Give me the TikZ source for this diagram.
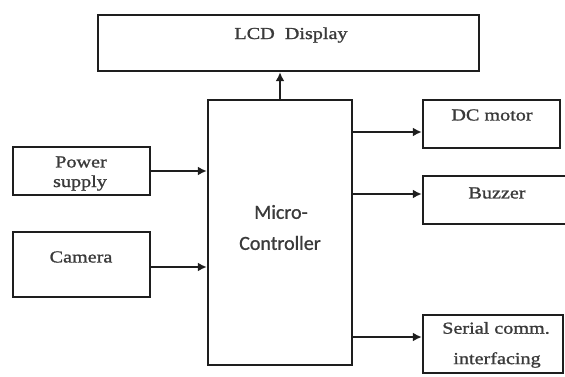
\documentclass[tikz,border=0pt]{standalone}
\usepackage{fontspec}
\setmainfont[FakeStretch=1.2,FakeBold=1.2]{Liberation Serif}
\newfontfamily\mcfont[FakeBold=1.0]{Carlito}
\usetikzlibrary{arrows.meta}
\definecolor{linecol}{HTML}{1E1E1E}
\definecolor{txtcol}{HTML}{3A3A3A}
\tikzset{
  blk/.style={draw=linecol, line width=2.4pt, inner sep=0pt},
  lbl/.style={text=txtcol, inner sep=0pt, font=\fontsize{16.8}{18}\selectfont},
  mclbl/.style={text=txtcol, inner sep=0pt, font=\mcfont\fontsize{20}{22}\selectfont},
  arr/.style={draw=linecol, line width=2.4pt, -{Latex[length=9pt,width=9pt]}}
}
\begin{document}
\begin{tikzpicture}[x=1pt,y=-1pt]
\useasboundingbox (0,0) rectangle (565,377);
% boxes
\node[blk, minimum width=381pt, minimum height=56pt] (lcd) at (288.5,43) {};
\node[blk, minimum width=144pt, minimum height=265pt] (mc) at (280,232.5) {};
\node[blk, minimum width=137pt, minimum height=48pt] (pw) at (81.5,171) {};
\node[blk, minimum width=137pt, minimum height=65pt] (cam) at (81.5,264.5) {};
\node[blk, minimum width=137pt, minimum height=48pt] (dc) at (491.5,124) {};
\node[blk, minimum width=146pt, minimum height=48pt] (bz) at (496,200) {};
\node[blk, minimum width=140pt, minimum height=58pt] (ser) at (493,344) {};
% texts
\node[lbl] (tlcd) at (291,35) {LCD\ \ Display};
\node[mclbl] (tmc1) at (281,212) {Micro-};
\node[mclbl] (tmc2) at (280,243) {Controller};
\node[lbl] (tpw1) at (81,162) {Power};
\node[lbl] (tpw2) at (80,183) {supply};
\node[lbl] (tcam) at (81,257) {Camera};
\node[lbl] (tdc) at (492,115) {DC motor};
\node[lbl] (tbz) at (497,193) {Buzzer};
\node[lbl] (tser1) at (496,328) {Serial comm.};
\node[lbl] (tser2) at (497,360) {interfacing};
% connectors
\draw[arr] (mc.north) -- (mc.north |- lcd.south);
\draw[arr] (pw.east) -- (pw.east -| mc.west);
\draw[arr] ([yshift=-2.5pt]cam.east) -- ([yshift=-2.5pt]cam.east -| mc.west);
\draw[arr] ([yshift=-8pt]dc.west -| mc.east) -- ([yshift=-8pt]dc.west);
\draw[arr] ([yshift=6pt]bz.west -| mc.east) -- ([yshift=6pt]bz.west);
\draw[arr] ([yshift=7pt]ser.west -| mc.east) -- ([yshift=7pt]ser.west);
\end{tikzpicture}
\end{document}
